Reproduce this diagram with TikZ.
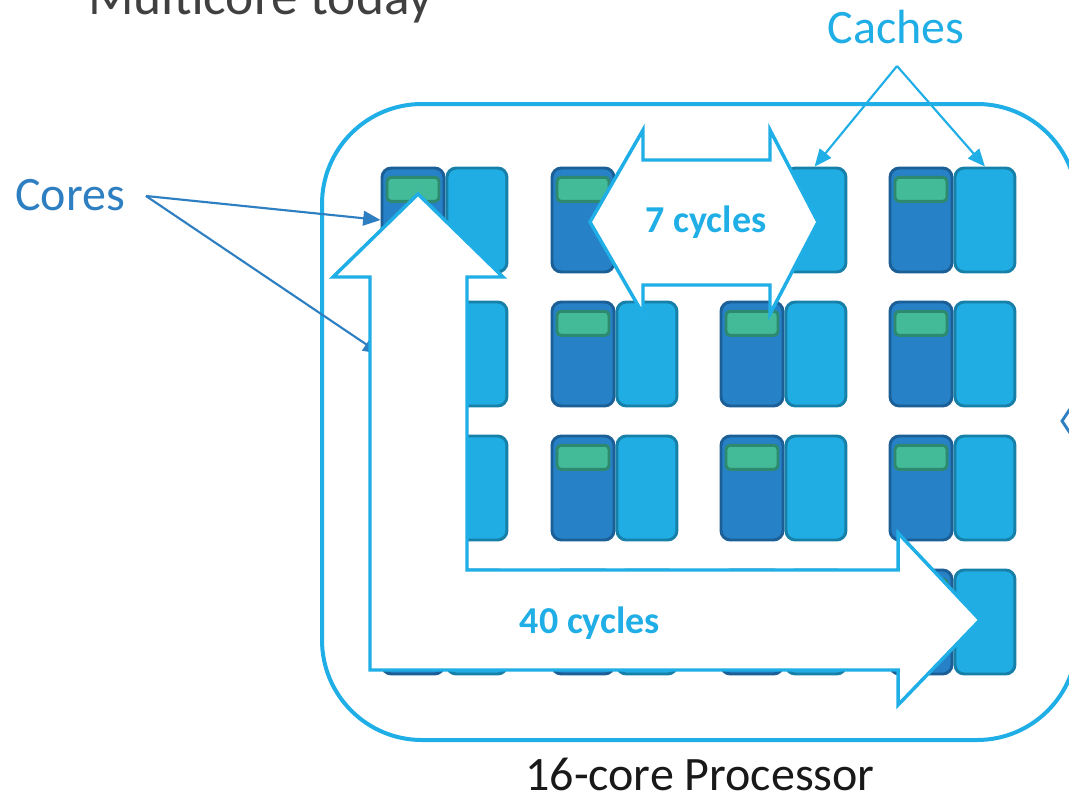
\documentclass[tikz,border=0pt]{standalone}
\usepackage{fontspec}
\setmainfont{Carlito}
\usepackage{xcolor}
\usetikzlibrary{positioning, arrows.meta}

\definecolor{procCyan}{RGB}{31,174,229}
\definecolor{coreFill}{RGB}{38,129,198}
\definecolor{coreLine}{RGB}{27,95,150}
\definecolor{cacheFill}{RGB}{31,173,227}
\definecolor{cacheLine}{RGB}{23,128,168}
\definecolor{regFill}{RGB}{67,187,152}
\definecolor{regLine}{RGB}{46,138,110}
\definecolor{coresBlue}{RGB}{46,127,194}
\definecolor{titleGray}{RGB}{64,64,64}

\begin{document}
\begin{tikzpicture}[x=0.75pt, y=-0.75pt]
        \tikzstyle{core} = [rectangle, draw=coreLine, fill=coreFill, line width=2.2pt, minimum width=46.5pt, minimum height=78pt, rounded corners=7pt, inner sep=0pt]
        \tikzstyle{cache} = [rectangle, draw=cacheLine, fill=cacheFill, line width=2.2pt, minimum width=45pt, minimum height=78pt, rounded corners=7pt, inner sep=0pt]
        \tikzstyle{reg} = [rectangle, draw=regLine, fill=regFill, line width=2.2pt, minimum width=39pt, minimum height=18pt, rounded corners=3pt, inner sep=0pt]
        \tikzstyle{bigarrow} = [draw=procCyan, fill=white, line width=2.6pt, line join=miter]
        \tikzstyle{pointer} = [line width=1.6pt, -{Triangle[length=13pt, width=11pt]}]
        \tikzstyle{label} = [font=\fontsize{36}{40}\selectfont, inner sep=0pt]
        \tikzstyle{cycles} = [font=\fontsize{28.5}{32}\selectfont\bfseries, text=procCyan, inner sep=0pt]

        \path[use as bounding box, fill=white] (0,0) rectangle (1069,799);

        % processor outline
        \draw[procCyan, line width=3pt, rounded corners=75pt] (322,104) rectangle (1077,740);

        % 4x4 grid of cores with their caches
        \foreach \r/\y in {1/220, 2/354, 3/488, 4/622} {
            \foreach \c/\x in {1/413, 2/583, 3/752, 4/921} {
                \node [core] (core-\r-\c) at (\x,\y) {};
                \node [reg, below=7pt of core-\r-\c.north] (reg-\r-\c) {};
                \node [cache, right=0pt of core-\r-\c] (cache-\r-\c) {};
            }
        }

        % labels and pointers
        \node [label, text=coresBlue] (cores) at (70,195) {Cores};
        \coordinate (coresPt) at (146,196);
        \draw [pointer, coresBlue] (coresPt) -- (core-2-1.west);
        \draw [pointer, coresBlue] (coresPt) -- (core-1-1.west);

        \node [label, text=procCyan] (caches) at (896,27) {Caches};
        \coordinate (cachesPt) at (897,66);
        \draw [pointer, procCyan] (cachesPt) -- ([xshift=-1pt]cache-1-3.north);
        \draw [pointer, procCyan] (cachesPt) -- (cache-1-4.north);

        % 40 cycles: bent arrow
        \draw [bigarrow] (418,194) -- (503,277) -- (467,277) -- (467,570) -- (898,570) -- (898,533)
            -- (980,620) -- (898,705) -- (898,670) -- (370,670) -- (370,277) -- (333,277) -- cycle;
        \node [cycles] (far) at (590,623) {40 cycles};

        % 7 cycles: double arrow
        \draw [bigarrow] (590,222) -- (643,130) -- (643,160) -- (770,160) -- (770,130) -- (818,222)
            -- (770,314) -- (770,285) -- (643,285) -- (643,314) -- cycle;
        \node [cycles] (near) at (706,222) {7 cycles};

        \draw [coresBlue, line width=2.2pt] (1070,409) -- (1062,421) -- (1070,433);

        \node [label, text=black!90] (proc) at (700,774) {16-core Processor};
        \node [font=\fontsize{40}{44}\selectfont, text=titleGray, inner sep=0pt, anchor=base west] (title) at (88,15) {Multicore today};
    \end{tikzpicture}
\end{document}
